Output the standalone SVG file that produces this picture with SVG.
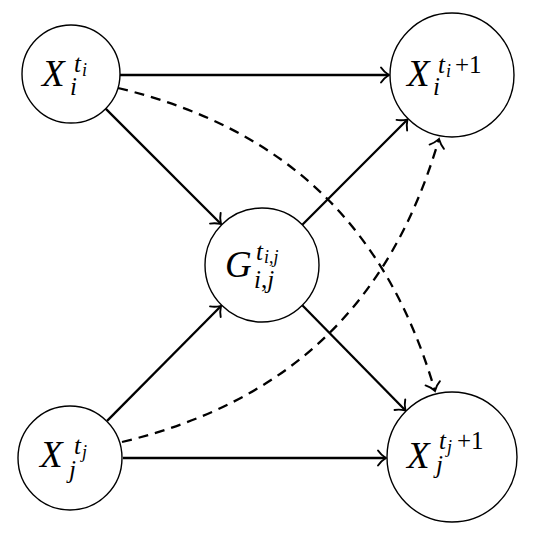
<svg xmlns="http://www.w3.org/2000/svg" width="540" height="542" viewBox="0 0 540 542">
<style>
.node{fill:#fff;stroke:#000;stroke-width:1.4}
.e{fill:none;stroke:#000;stroke-width:2.3;marker-end:url(#ah)}
.d{stroke-dasharray:10 7}
text{font-family:"Liberation Serif","DejaVu Serif",serif;fill:#000;font-style:italic}
.up{font-style:normal}
.m{font-size:37px}.s{font-size:25px}.ss{font-size:18px}
</style>
<defs>
<marker id="ah" viewBox="-10 -10 20 20" markerWidth="20" markerHeight="20" refX="0" refY="0" orient="auto" markerUnits="userSpaceOnUse">
<path d="M -8 -7.5 C -5 -3 -1.5 -1 0 0 C -1.5 1 -5 3 -8 7.5" fill="none" stroke="#000" stroke-width="1.9" stroke-linecap="round"/>
</marker>
</defs>
<g id="connectors">
<path class="e" d="M120 75 H389"/>
<path class="e" d="M105.6 108.6 L221 224"/>
<path class="e" d="M302.3 224.7 L407.5 119.5"/>
<path class="e" d="M107.1 420.9 L221 306"/>
<path class="e" d="M302.3 305.3 L405.5 410.5"/>
<path class="e" d="M123 458 H386"/>
<path class="e d" d="M118 88 C284.7 128.3 386.6 225.5 435 391"/>
<path class="e d" d="M122 442 C288.7 401.7 390.6 304.5 439 139"/>
</g>
<g id="Xi">
<circle class="node" cx="71" cy="74" r="49"/>
<text x="42" y="86" class="m">X</text>
<text x="74" y="72" class="s">t</text>
<text x="82" y="76" class="ss">i</text>
<text x="70" y="95" class="s">i</text>
</g>
<g id="Xi1">
<circle class="node" cx="452" cy="75" r="62"/>
<text x="407" y="86" class="m">X</text>
<text x="438" y="73" class="s">t</text>
<text x="446" y="77" class="ss">i</text>
<text x="455" y="73" class="s up">+1</text>
<text x="433" y="95" class="s">i</text>
</g>
<g id="G">
<circle class="node" cx="262" cy="265" r="57"/>
<text x="225" y="277" class="m">G</text>
<text x="256" y="260" class="s">t</text>
<text x="264" y="263" class="ss">i<tspan class="up">,</tspan>j</text>
<text x="254" y="288" class="s">i<tspan class="up">,</tspan>j</text>
</g>
<g id="Xj">
<circle class="node" cx="70" cy="458" r="52"/>
<text x="40" y="467" class="m">X</text>
<text x="74" y="454" class="s">t</text>
<text x="82" y="458" class="ss">j</text>
<text x="69" y="478" class="s">j</text>
</g>
<g id="Xj1">
<circle class="node" cx="452" cy="457" r="65"/>
<text x="407" y="468" class="m">X</text>
<text x="439" y="449" class="s">t</text>
<text x="447" y="453" class="ss">j</text>
<text x="457" y="449" class="s up">+1</text>
<text x="436" y="473" class="s">j</text>
</g>
</svg>
